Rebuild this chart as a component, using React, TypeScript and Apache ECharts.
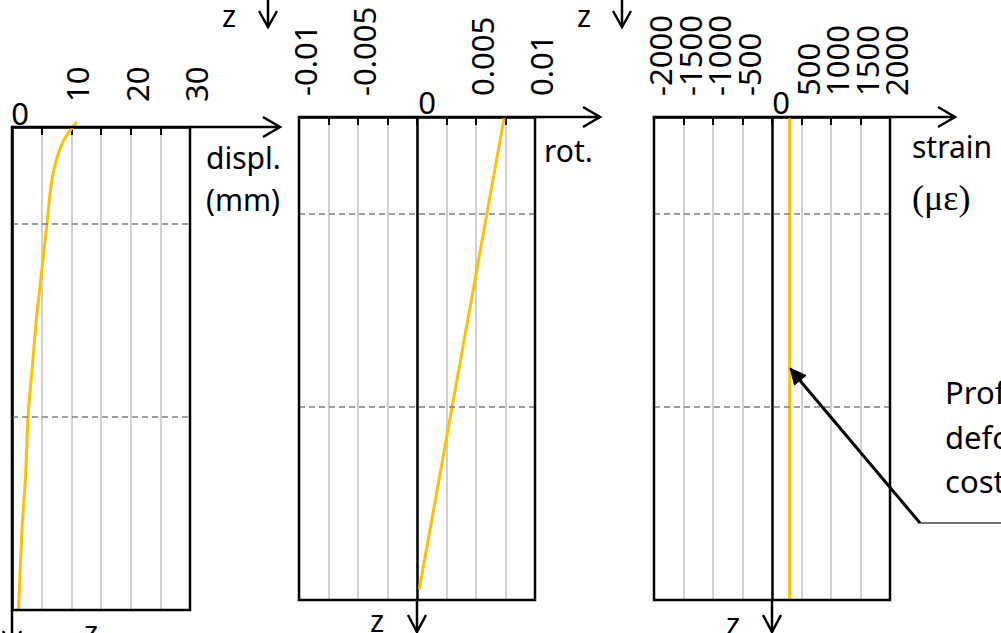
import React, { useEffect, useRef } from "react";
import * as echarts from "echarts";

// ---- data ----
const DISPL_Z = [-0.1, 0.33, 1.04, 2, 3.1, 4, 5, 6, 7.2, 8.3, 10];
const DISPL_MM = [10.9, 8.5, 6.8, 5.9, 4.9, 4.1, 3.4, 2.7, 2.3, 1.7, 1.1];
const ROT_Z = [0, 9.77];
const ROT_VAL = [0.0074, 0.0002];
const STRAIN_Z = [0, 10];
const STRAIN_VAL = [300, 300];
const DASHED_Z = [2, 6];
const ANNOT_LINES = ["Profilo di", "deformazione", "costante"];

// ---- layout ----
const G = [
  { left: 12, top: 127, width: 178, height: 483, min: 0, max: 30, interval: 5 },
  { left: 299, top: 117, width: 236, height: 483, min: -0.01, max: 0.01, interval: 0.0025 },
  { left: 654, top: 117, width: 236, height: 483, min: -2000, max: 2000, interval: 500 },
];
const FONT = '"Noto Sans", sans-serif';
const zeroX = (g: any) => g.left + (g.width * (0 - g.min)) / (g.max - g.min);

const labelFmt = [
  (v: number) => (v !== 0 && Math.round(v) % 10 === 0 ? String(Math.round(v)) : ""),
  (v: number) => {
    const k = Math.round(v / 0.0025);
    if (k === 0 || k % 2 !== 0) return "";
    return String(+v.toFixed(3));
  },
  // inner strain labels; the end labels (±2000) come from a second label axis
  (v: number) => (Math.round(v) === 0 || Math.abs(Math.round(v)) === 2000 ? "" : String(Math.round(v))),
];
const strainEndFmt = (v: number) => (Math.abs(Math.round(v)) === 2000 ? String(Math.round(v)) : "");

export default function App() {
  const ref = useRef<HTMLDivElement>(null);
  useEffect(() => {
    if (!ref.current) return;
    const chart = echarts.init(ref.current, undefined, { renderer: "svg" });

    const black = { stroke: "#000", lineWidth: 2.5, fill: "none" };
    const graphic: any[] = [];
    const line = (x1: number, y1: number, x2: number, y2: number, style: any = black) =>
      graphic.push({ type: "line", shape: { x1, y1, x2, y2 }, style, z: 100 });
    const poly = (pts: number[][], style: any = black) =>
      graphic.push({ type: "polyline", shape: { points: pts }, style, z: 100 });
    const text = (t: string, x: number, y: number, size: number, align = "left", family = FONT) =>
      graphic.push({
        type: "text",
        x,
        y,
        z: 100,
        style: { text: t, fontSize: size, fontFamily: family, fill: "#000", align, verticalAlign: "middle" },
      });

    // box borders (drawn over split lines)
    G.forEach((g) => {
      graphic.push({
        type: "rect",
        z: 90,
        shape: { x: g.left, y: g.top, width: g.width, height: g.height },
        style: { fill: "none", stroke: "#000", lineWidth: 2.5 },
      });
    });

    // x-axis arrow extensions
    const arrowEnds = [280, 600, 955];
    G.forEach((g, i) => {
      const y = g.top;
      const xe = arrowEnds[i];
      line(g.left + g.width, y, xe, y);
      poly([[xe - 17, y - 10], [xe, y], [xe - 17, y + 10]]);
    });
    // z-axis extensions
    const zTips = [648, 632, 632];
    G.forEach((g, i) => {
      const x = zeroX(g);
      const yb = g.top + g.height;
      line(x, yb, x, zTips[i]);
      poly([[x - 9, zTips[i] - 17], [x, zTips[i]], [x + 9, zTips[i] - 17]]);
    });
    // zero labels
    text("0", 20, 113, 31, "center");
    text("0", 427, 102, 31, "center");
    text("0", 781, 102, 31, "center");
    // axis titles
    text("displ.", 206, 157, 30);
    text("(mm)", 206, 199, 30);
    text("rot.", 544, 150, 30);
    text("strain", 912, 146, 30);
    text("(\u03bc\u03b5)", 912, 198, 36, "left", '"Liberation Serif", "DejaVu Serif", serif');
    // z labels bottom
    text("z", 91, 631, 30, "center");
    text("z", 377, 620, 30, "center");
    text("z", 733, 623, 30, "center");
    // top z labels with arrows
    text("z", 229, 15, 30, "center");
    line(268, 0, 268, 27);
    poly([[259, 11], [268, 27], [277, 11]]);
    text("z", 584, 15, 30, "center");
    line(622, 0, 622, 27);
    poly([[613, 11], [622, 27], [631, 11]]);
    // annotation
    line(920, 523, 1001, 523, { stroke: "#404040", lineWidth: 1.5 });
    line(920, 523, 797, 377, { stroke: "#000", lineWidth: 3 });
    graphic.push({
      type: "polygon",
      z: 101,
      shape: { points: [[790, 368], [794.5, 385], [806, 375.5]] },
      style: { fill: "#000", stroke: "#000", lineWidth: 1 },
    });
    ANNOT_LINES.forEach((t, i) => text(t, 945, 392 + i * 44.5, 31));

    const markLine = {
      silent: true,
      symbol: ["none", "none"],
      label: { show: false },
      lineStyle: { color: "#7f7f7f", type: [6, 4], width: 1.5 },
      data: DASHED_Z.map((z) => ({ yAxis: z })),
    };

    const margins = [25, 21, 21];
    const labelStyle = (i: number, fmt: any) => ({
      show: true,
      rotate: -90,
      margin: margins[i],
      fontSize: 31,
      lineHeight: 12,
      verticalAlign: "top",
      fontFamily: FONT,
      color: "#000",
      formatter: fmt,
    });

    const xAxes: any[] = G.map((g, i) => ({
      type: "value",
      gridIndex: i,
      position: "top",
      min: g.min,
      max: g.max,
      interval: g.interval,
      axisLine: { show: true, onZero: false, lineStyle: { color: "#000", width: 2.5 } },
      axisTick: { show: true, inside: true, length: 8, lineStyle: { color: "#000", width: 2 } },
      splitLine: {
        show: true,
        showMinLine: false,
        showMaxLine: false,
        lineStyle: { color: "#c0c0c0", width: 1.5 },
      },
      axisLabel: labelStyle(i, labelFmt[i]),
    }));
    // label-only axis for the strain end labels (±2000)
    xAxes.push({
      type: "value",
      gridIndex: 2,
      position: "top",
      min: G[2].min,
      max: G[2].max,
      interval: 2000,
      axisLine: { show: false, onZero: false },
      axisTick: { show: false },
      splitLine: { show: false },
      axisLabel: labelStyle(2, strainEndFmt),
    });

    const option: any = {
      animation: false,
      grid: G.map((g) => ({
        left: g.left,
        top: g.top,
        width: g.width,
        height: g.height,
        show: false,
      })),
      xAxis: xAxes,
      yAxis: G.map((g, i) => ({
        type: "value",
        gridIndex: i,
        inverse: true,
        min: 0,
        max: 10,
        axisLine: { show: true, onZero: true, lineStyle: { color: "#000", width: 2.5 } },
        axisTick: { show: false },
        axisLabel: { show: false },
        splitLine: { show: false },
      })),
      series: [
        {
          type: "line",
          xAxisIndex: 0,
          yAxisIndex: 0,
          smooth: 0.3,
          clip: false,
          showSymbol: false,
          lineStyle: { color: "#FFC000", width: 3 },
          data: DISPL_MM.map((v, i) => [v, DISPL_Z[i]]),
          markLine,
        },
        {
          type: "line",
          xAxisIndex: 1,
          yAxisIndex: 1,
          showSymbol: false,
          lineStyle: { color: "#FFC000", width: 3 },
          data: ROT_VAL.map((v, i) => [v, ROT_Z[i]]),
          markLine,
        },
        {
          type: "line",
          xAxisIndex: 2,
          yAxisIndex: 2,
          showSymbol: false,
          lineStyle: { color: "#FFC000", width: 3 },
          data: STRAIN_VAL.map((v, i) => [v, STRAIN_Z[i]]),
          markLine,
        },
      ],
      graphic,
    };
    chart.setOption(option);
    return () => chart.dispose();
  }, []);
  return (
    <div
      ref={ref}
      style={{ position: "absolute", left: 0, top: 0, width: 1001, height: 633, background: "#fff" }}
    />
  );
}
